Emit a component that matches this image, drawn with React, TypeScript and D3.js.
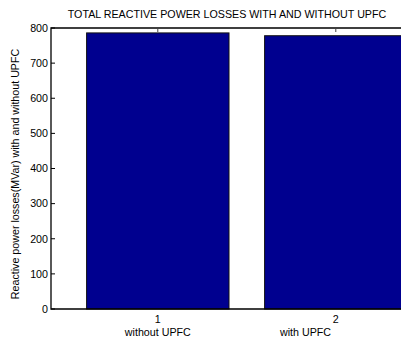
import React from "react";
import * as d3 from "d3";

// Total reactive power losses (MVar) for each case
const caseIndex = [1, 2];
const caseNames = ["without UPFC", "with UPFC"];
const losses = [786, 778];
const yTicks = [0, 100, 200, 300, 400, 500, 600, 700, 800];

const W = 401;
const H = 338;
const plot = { left: 51, top: 28, bottom: 309, unit: 178 };

export default function App() {
  const x = d3
    .scaleLinear()
    .domain([0.4, 2.6])
    .range([plot.left, plot.left + 2.2 * plot.unit]);
  const y = d3.scaleLinear().domain([0, 800]).range([plot.bottom, plot.top]);
  const barW = 0.8 * (x(2) - x(1));
  const font = "'Liberation Sans', Arial, Helvetica, sans-serif";
  const right = x(2.6);
  const labelX = [x(1), x(1.83)];
  const fs = 10.7;

  return (
    <svg
      width={W}
      height={H}
      style={{ position: "absolute", left: 0, top: 0, background: "#fff" }}
      fontFamily={font}
    >
      <rect x={0} y={0} width={W} height={H} fill="#fff" />
      {/* bars */}
      {losses.map((v, i) => (
        <rect
          key={i}
          x={x(caseIndex[i]) - barW / 2}
          y={y(v)}
          width={barW}
          height={y(0) - y(v)}
          fill="#00008f"
          stroke="#111"
          strokeWidth={1}
        />
      ))}
      {/* axes box */}
      <path
        d={`M${right},${plot.top}H${plot.left}V${plot.bottom}H${right}`}
        fill="none"
        stroke="#000"
        strokeWidth={1.3}
      />
      {/* y ticks */}
      {yTicks.map((t) => (
        <g key={t}>
          <line
            x1={plot.left}
            x2={plot.left + 4}
            y1={y(t)}
            y2={y(t)}
            stroke="#000"
            strokeWidth={1}
          />
          <text
            x={plot.left - 3}
            y={y(t) + 3.8}
            fontSize={fs}
            textAnchor="end"
            fill="#000"
          >
            {t}
          </text>
        </g>
      ))}
      {/* x ticks along the top edge */}
      {caseIndex.map((c) => (
        <line
          key={c}
          x1={x(c)}
          x2={x(c)}
          y1={plot.top}
          y2={plot.top + 4}
          stroke="#444"
          strokeWidth={1}
        />
      ))}
      {/* x tick labels */}
      {caseIndex.map((c) => (
        <text key={c} x={x(c)} y={323} fontSize={fs} textAnchor="middle">
          {c}
        </text>
      ))}
      {caseNames.map((n, i) => (
        <text key={n} x={labelX[i]} y={336} fontSize={fs} textAnchor="middle">
          {n}
        </text>
      ))}
      {/* title */}
      <text x={227} y={18} fontSize={fs} textAnchor="middle">
        TOTAL REACTIVE POWER LOSSES WITH AND WITHOUT UPFC
      </text>
      {/* y label */}
      <text
        transform={`translate(19,${174}) rotate(-90)`}
        fontSize={fs}
        textAnchor="middle"
      >
        Reactive power losses(MVar) with and without UPFC
      </text>
    </svg>
  );
}
